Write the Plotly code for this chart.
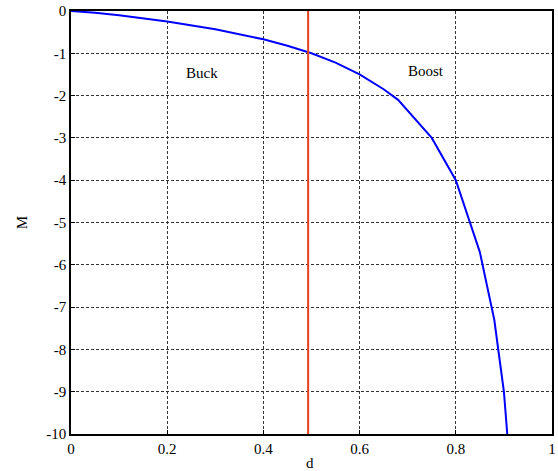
import plotly.graph_objects as go

# Buck-boost conversion ratio curve
d_vals = [0, 0.05, 0.1, 0.2, 0.3, 0.4, 0.45, 0.5, 0.55, 0.6, 0.65, 0.68, 0.75, 0.8, 0.85, 0.88, 0.9, 0.907]
m_vals = [0, -0.04, -0.1, -0.25, -0.43, -0.67, -0.82, -1.0, -1.22, -1.5, -1.85, -2.1, -3.0, -4.0, -5.7, -7.3, -9.0, -10.0]

# Vertical separator line
sep_d = [0.493, 0.493]
sep_m = [0, -10]

x_ticks = [0, 0.2, 0.4, 0.6, 0.8, 1]
x_tick_labels = ["0", "0.2", "0.4", "0.6", "0.8", "1"]
y_ticks = [0, -1, -2, -3, -4, -5, -6, -7, -8, -9, -10]
y_tick_labels = ["0", "-1", "-2", "-3", "-4", "-5", "-6", "-7", "-8", "-9", "-10"]

region_labels = ["Buck", "Boost"]
region_x = [0.273, 0.737]
region_y = [-1.47, -1.42]

font_family = "Liberation Serif, Times New Roman, serif"

fig = go.Figure()
fig.add_trace(go.Scatter(x=d_vals, y=m_vals, mode="lines",
                         line=dict(color="#0000ff", width=2), showlegend=False))
fig.add_trace(go.Scatter(x=sep_d, y=sep_m, mode="lines",
                         line=dict(color="#e8401c", width=2), showlegend=False))

for t, xx, yy in zip(region_labels, region_x, region_y):
    fig.add_annotation(x=xx, y=yy, text=t, showarrow=False,
                       font=dict(family=font_family, size=15, color="black"))

# axis titles placed as annotations for precise positioning
fig.add_annotation(xref="paper", yref="paper", x=0.4975, y=-0.0686, text="d",
                   showarrow=False, xanchor="center", yanchor="middle",
                   font=dict(family=font_family, size=15, color="black"))
fig.add_annotation(xref="paper", yref="paper", x=-0.101, y=0.499, text="M",
                   showarrow=False, xanchor="center", yanchor="middle", textangle=-90,
                   font=dict(family=font_family, size=15, color="black"))

axis_common = dict(
    showgrid=True, gridcolor="#333333", griddash="3px,2px", gridwidth=1,
    showline=True, linecolor="black", linewidth=1.5, mirror=True,
    zeroline=False, ticks="inside", ticklen=4, tickcolor="black",
    tickfont=dict(family=font_family, size=15, color="black"),
    automargin=False, ticklabeloverflow="allow",
)

fig.update_xaxes(range=[0, 1], tickvals=x_ticks, ticktext=x_tick_labels, **axis_common)
fig.update_yaxes(range=[-10, 0], tickvals=y_ticks, ticktext=y_tick_labels, **axis_common)

fig.update_layout(width=558, height=471,
                  margin=dict(l=71, r=6, t=11, b=37),
                  plot_bgcolor="white", paper_bgcolor="white")

# remove the browser's default 8px body margin so the figure fills the window
fig.write_html("out.html", config={"displayModeBar": False},
               post_script="document.body.style.margin='0';")
